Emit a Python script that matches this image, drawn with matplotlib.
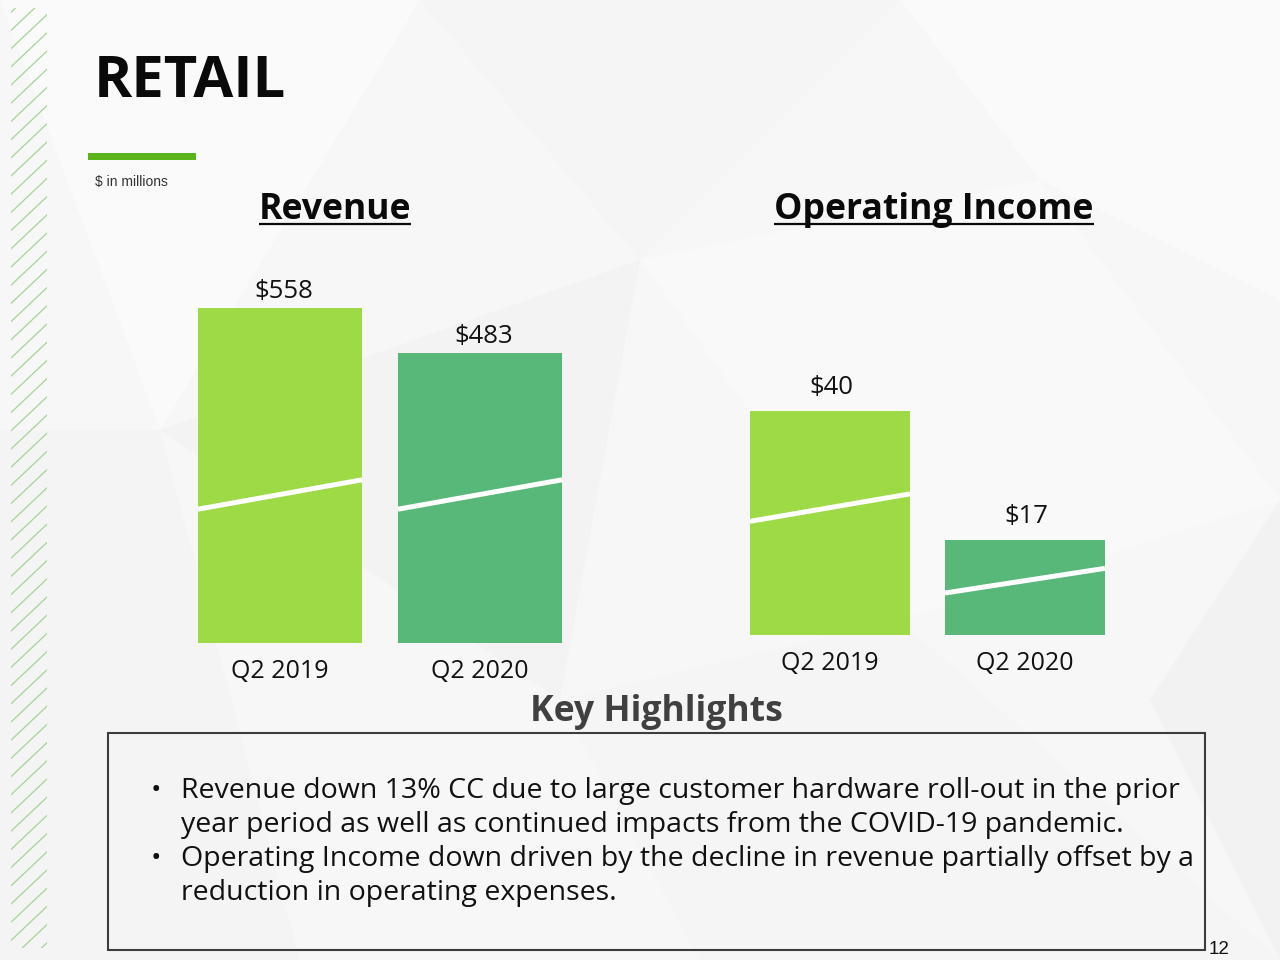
import matplotlib
matplotlib.use("Agg")
import matplotlib.pyplot as plt
from matplotlib.patches import Rectangle, Polygon
from matplotlib.lines import Line2D

plt.rcParams['font.family'] = ['Open Sans', 'DejaVu Sans']

# ---- data ----
periods = ["Q2 2019", "Q2 2020"]
revenue = [558, 483]
op_income = [40, 17]
revenue_labels = ["$558", "$483"]
op_income_labels = ["$40", "$17"]
bar_colors = ["#9dda46", "#58b87a"]
# decorative "axis break" slashes, (start, end) heights in data units per bar
revenue_breaks = [(223, 272), (223, 272)]
op_income_breaks = [(20.3, 25.2), (7.5, 11.9)]
bullets = [
    ["Revenue down 13% CC due to large customer hardware roll-out in the prior",
     "year period as well as continued impacts from the COVID-19 pandemic."],
    ["Operating Income down driven by the decline in revenue partially offset by a",
     "reduction in operating expenses."],
]

W, H = 1280, 960
fig = plt.figure(figsize=(12.8, 9.6), dpi=100)
fig.patch.set_facecolor("#f7f7f7")

# background axes in pixel coordinates
bg = fig.add_axes([0, 0, 1, 1])
bg.set_xlim(0, W)
bg.set_ylim(H, 0)
bg.axis("off")
bg.set_zorder(0)

# faint polygon shading of the slide background
polys = [
    ([(0, 0), (420, 0), (160, 430)], "#fafafa"),
    ([(420, 0), (900, 0), (640, 260)], "#f5f5f5"),
    ([(900, 0), (1280, 0), (1280, 300), (1040, 180)], "#fafafa"),
    ([(160, 430), (640, 260), (560, 700)], "#f3f3f3"),
    ([(640, 260), (1040, 180), (1280, 500), (900, 620)], "#f9f9f9"),
    ([(0, 430), (160, 430), (300, 960), (0, 960)], "#f4f4f4"),
    ([(560, 700), (900, 620), (1280, 960), (700, 960)], "#f5f5f5"),
    ([(1280, 500), (1280, 960), (1150, 700)], "#f2f2f2"),
]
for pts, c in polys:
    bg.add_patch(Polygon(pts, closed=True, facecolor=c, edgecolor="none", zorder=0))

# left hatched stripe
clip = Rectangle((11, 8), 36, 940, transform=bg.transData, facecolor="none", edgecolor="none")
bg.add_patch(clip)
y = -40
while y < H + 60:
    ln = Line2D([11, 47], [y + 34, y], color="#9ad28a", lw=0.9, alpha=0.9, zorder=1)
    bg.add_line(ln)
    ln.set_clip_path(clip)
    y += 18.2

# title and accent
bg.text(94, 97, "RETAIL", fontsize=41.8, fontweight="bold", color="#0a0a0a",
        ha="left", va="baseline", zorder=3)
bg.add_patch(Rectangle((88, 153), 108, 7, facecolor="#5ab41a", edgecolor="none", zorder=3))
bg.text(95, 186, "$ in millions", fontsize=10, color="#333333", family=["Liberation Sans"],
        ha="left", va="baseline", zorder=3)

# section titles (bold, underlined)
titles = []
for x, s in [(335, "Revenue"), (934, "Operating Income")]:
    t = bg.text(x, 219, s, fontsize=25.7, fontweight="bold", color="#0a0a0a",
                ha="center", va="baseline", zorder=3)
    titles.append(t)


def bar_panel(rect_px, values, labels, breaks, ymax, label_off, tick_pad):
    left, top, width, height = rect_px
    ax = fig.add_axes([left / W, 1 - (top + height) / H, width / W, height / H])
    ax.set_zorder(2)
    ax.patch.set_alpha(0)
    x = list(range(len(values)))
    bw = 0.82
    ax.bar(x, values, width=bw, color=bar_colors, edgecolor="none", zorder=2)
    for xi, v, lab in zip(x, values, labels):
        ax.annotate(lab, (xi, v), xytext=label_off, textcoords="offset points",
                    ha="center", va="baseline", fontsize=18.5, color="#111111")
    for xi, (b0, b1) in zip(x, breaks):
        ax.plot([xi - bw / 2, xi + bw / 2], [b0, b1], color="white", lw=3.6,
                solid_capstyle="butt", zorder=3)
    ax.set_xlim(-0.5, len(values) - 0.5)
    ax.set_ylim(0, ymax)
    ax.set_xticks(x)
    ax.set_xticklabels(periods, fontsize=18, color="#111111")
    ax.tick_params(axis="x", length=0, pad=tick_pad)
    ax.set_yticks([])
    for sp in ax.spines.values():
        sp.set_visible(False)
    return ax


# revenue: baseline at y=643 px, 0.6 px per $M
bar_panel((180, 643 - 420, 400, 420), revenue, revenue_labels, revenue_breaks, 700,
          (3, 7), 11.5)
# operating income: baseline at y=635 px, 5.6 px per $M
bar_panel((732.5, 635 - 420, 390, 420), op_income, op_income_labels, op_income_breaks, 75,
          (1, 12), 11.3)

# key highlights
bg.text(656, 721, "Key Highlights", fontsize=25.6, fontweight="bold", color="#404040",
        ha="center", va="baseline", zorder=3)
bg.add_patch(Rectangle((108, 733), 1097, 217, facecolor="none", edgecolor="#3c3c3c",
                       lw=1.5, zorder=3))
line_y = 798
for bullet in bullets:
    bg.text(151, line_y, "•", fontsize=20, color="#111111", ha="left", va="baseline", zorder=3)
    for line in bullet:
        bg.text(181, line_y, line, fontsize=20.5, color="#111111", ha="left", va="baseline", zorder=3)
        line_y += 34

bg.text(1209, 954, "12", fontsize=13.5, color="#111111", family=["Liberation Sans"],
        ha="left", va="baseline", zorder=3)

# underline the section titles
fig.canvas.draw()
renderer = fig.canvas.get_renderer()
for t in titles:
    bb = t.get_window_extent(renderer)
    ypix = 224
    bg.plot([bb.x0, bb.x1], [ypix, ypix], color="#0a0a0a", lw=1.6, zorder=3,
            solid_capstyle="butt")

fig.savefig("out.png", dpi=100, facecolor=fig.get_facecolor())
